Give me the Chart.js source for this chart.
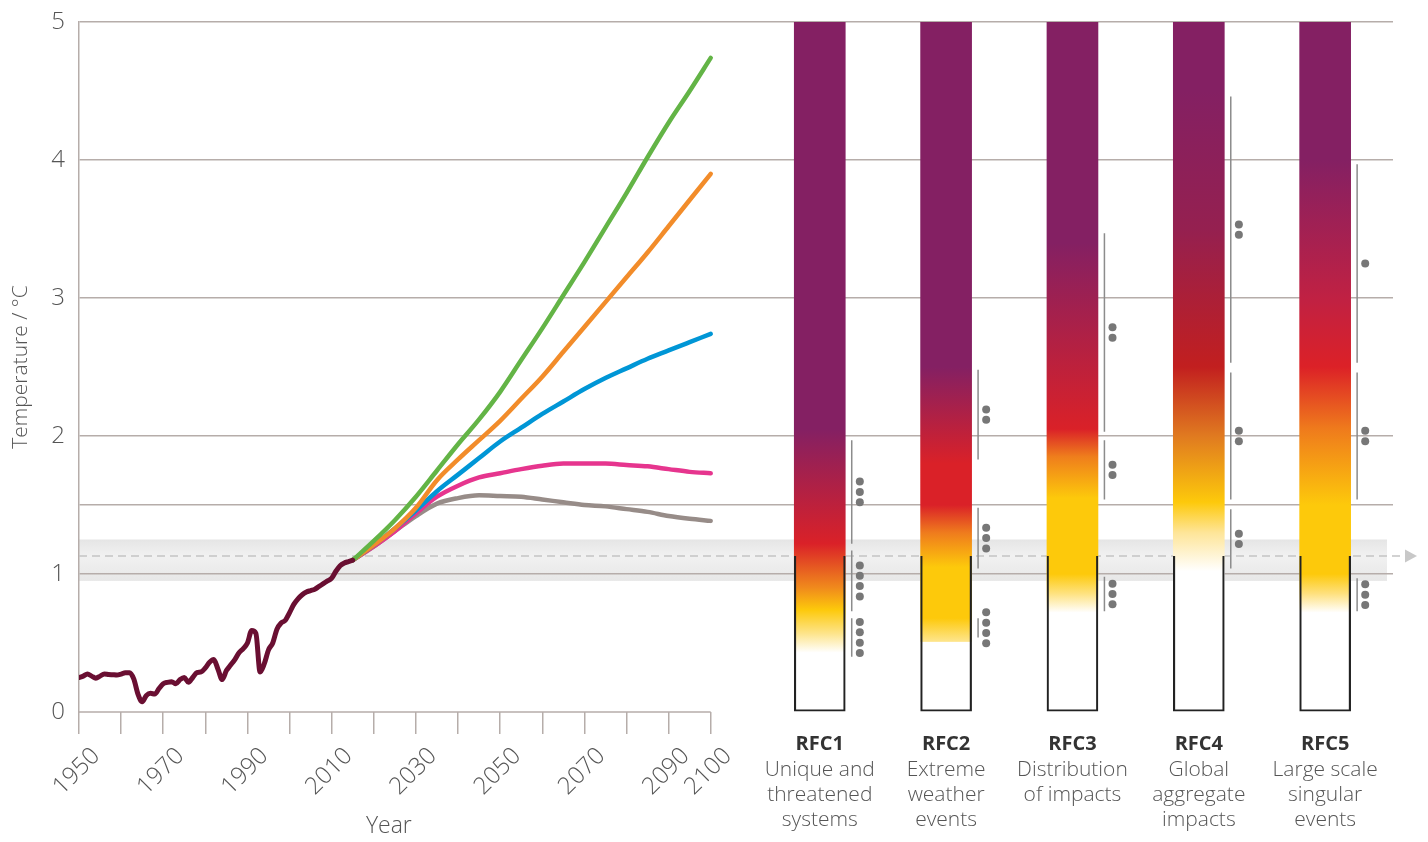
<!DOCTYPE html>
<html>
<head>
<meta charset="utf-8">
<script src="https://cdn.jsdelivr.net/npm/chart.js@4/dist/chart.umd.min.js"></script>
<style>
  html, body { margin: 0; padding: 0; background: #fff; }
  #wrap { position: relative; width: 1428px; height: 842px; }
</style>
</head>
<body>
<div id="wrap"><canvas id="myChart"></canvas></div>
<script>
// observed warming, one value per year from 1950
const histStart = 1950
const histValues = [
  0.25, 0.26, 0.275, 0.26, 0.245, 0.26, 0.275, 0.272, 0.27, 0.268,
  0.275, 0.285, 0.285, 0.24, 0.13, 0.075, 0.12, 0.135, 0.13, 0.17,
  0.205, 0.215, 0.22, 0.205, 0.235, 0.25, 0.215, 0.25, 0.285, 0.29,
  0.32, 0.36, 0.38, 0.31, 0.235, 0.3, 0.34, 0.38, 0.43, 0.46,
  0.5, 0.59, 0.57, 0.29, 0.35, 0.45, 0.5, 0.6, 0.645, 0.665,
  0.72, 0.78, 0.82, 0.85, 0.87, 0.88, 0.89, 0.91, 0.93, 0.95,
  0.97, 1.02, 1.06, 1.08, 1.09, 1.1
]

// projections, every 5 years from 2015 to 2100
const scenarioStart = 2015
const scenarioStep = 5
const greenPath  = [1.10, 1.24, 1.39, 1.56, 1.75, 1.94, 2.12, 2.32, 2.55, 2.78, 3.02, 3.26, 3.51, 3.76, 4.02, 4.27, 4.50, 4.74]
const orangePath = [1.10, 1.21, 1.33, 1.48, 1.68, 1.83, 1.97, 2.11, 2.27, 2.43, 2.61, 2.79, 2.97, 3.15, 3.33, 3.52, 3.71, 3.90]
const bluePath   = [1.10, 1.21, 1.33, 1.46, 1.60, 1.72, 1.84, 1.96, 2.06, 2.16, 2.25, 2.34, 2.42, 2.49, 2.56, 2.62, 2.68, 2.74]
const pinkPath   = [1.10, 1.20, 1.31, 1.44, 1.56, 1.64, 1.70, 1.73, 1.76, 1.785, 1.80, 1.80, 1.80, 1.79, 1.78, 1.76, 1.74, 1.73]
const greyPath   = [1.10, 1.20, 1.31, 1.42, 1.51, 1.55, 1.57, 1.565, 1.56, 1.54, 1.52, 1.50, 1.49, 1.47, 1.45, 1.42, 1.40, 1.385]

const yearTicks = [1950, 1960, 1970, 1980, 1990, 2000, 2010, 2020, 2030, 2040, 2050, 2060, 2070, 2080, 2090, 2100]
const yearLabels = [1950, 1970, 1990, 2010, 2030, 2050, 2070, 2090, 2100]
const gridLevels = [1, 1.5, 2, 3, 4, 5]

const tempMax = 5
const presentWarming = 1.13
const presentRange = [0.95, 1.25]

const rfcNames = ['RFC1', 'RFC2', 'RFC3', 'RFC4', 'RFC5']
const rfcDescriptions = [
  ['Unique and', 'threatened', 'systems'],
  ['Extreme', 'weather', 'events'],
  ['Distribution', 'of impacts'],
  ['Global', 'aggregate', 'impacts'],
  ['Large scale', 'singular', 'events']
]

// [temperature, colour] – risk shading of each column
const rfcColorStops = [
  [[0.43, '#ffffff'], [0.57, '#fde48a'], [0.74, '#fdc90b'], [0.9, '#f08a1c'], [1.22, '#da2128'], [2.05, '#842063']],
  [[0.51, '#ffffff'], [0.511, '#fee58c'], [0.68, '#fdc90b'], [1.05, '#fdc90b'], [1.3, '#ef7b1d'], [1.5, '#da2128'], [1.8, '#da2128'], [2.5, '#842063']],
  [[0.72, '#ffffff'], [0.86, '#fee27e'], [1.0, '#fdc90b'], [1.55, '#fdc90b'], [1.85, '#ef7e1c'], [2.05, '#da2128'], [3.4, '#842063']],
  [[1.02, '#ffffff'], [1.3, '#fee598'], [1.52, '#fdc90b'], [2.0, '#e07a20'], [2.5, '#c21f1f'], [3.5, '#952050'], [4.5, '#842063']],
  [[0.72, '#ffffff'], [0.86, '#fee07c'], [1.0, '#fdc90b'], [1.5, '#fdc90b'], [2.05, '#ef7b1c'], [2.5, '#dc2127'], [3.0, '#c02143'], [4.0, '#842063']]
]

// [from, to, confidence dots]
const rfcConfidence = [
  [[0.40, 0.68, 4], [0.73, 1.17, 4], [1.22, 1.97, 3]],
  [[0.54, 0.68, 4], [1.04, 1.48, 3], [1.83, 2.48, 2]],
  [[0.73, 0.98, 3], [1.54, 1.97, 2], [2.03, 3.47, 2]],
  [[1.04, 1.47, 2], [1.54, 2.46, 2], [2.53, 4.46, 2]],
  [[0.73, 0.97, 3], [1.54, 2.46, 2], [2.53, 3.97, 1]]
]

const fontFamily = '"Open Sans", Lato, sans-serif'
const gridColor = '#b6adaa'
const textColor = '#555'

const histData = histValues.map((v, i) => ({ x: histStart + i, y: v }))
const scenario = arr => arr.map((v, i) => ({ x: scenarioStart + i * scenarioStep, y: v }))

const lineOffset = 0.253
const dotOffset = 0.317
const dotGap = 0.075

const confLines = []
const confDots = []
rfcConfidence.forEach((segs, i) => {
  segs.forEach(([lo, hi, n]) => {
    confLines.push({ x: i + lineOffset, y: lo }, { x: i + lineOffset, y: hi }, { x: i + lineOffset, y: null })
    const mid = (lo + hi) / 2
    for (let k = 0; k < n; k++) {
      confDots.push({ x: i + dotOffset, y: mid + (k - (n - 1) / 2) * dotGap })
    }
  })
})

function rfcGradient(context) {
  const chart = context.chart
  const stops = rfcColorStops[context.dataIndex]
  if (!chart.chartArea || !stops) return 'transparent'
  const y = chart.scales.y
  const g = chart.ctx.createLinearGradient(0, y.getPixelForValue(0), 0, y.getPixelForValue(tempMax))
  stops.forEach(([v, c]) => g.addColorStop(v / tempMax, c))
  return g
}

function lineSet(label, data, color, width, order) {
  return {
    type: 'line', label, data, xAxisID: 'x', yAxisID: 'y',
    borderColor: color, borderWidth: width, pointRadius: 0, cubicInterpolationMode: 'monotone',
    borderCapStyle: 'round', borderJoinStyle: 'round', order
  }
}

const decorations = {
  id: 'decorations',
  beforeDraw(chart) {
    const { ctx, chartArea, scales } = chart
    const top = scales.y.getPixelForValue(presentRange[1])
    const bottom = scales.y.getPixelForValue(presentRange[0])
    const g = ctx.createLinearGradient(0, top, 0, bottom)
    g.addColorStop(0, '#e5e5e5')
    g.addColorStop(0.4, '#f1f1f1')
    g.addColorStop(1, '#e7e7e7')
    ctx.save()
    ctx.fillStyle = g
    ctx.fillRect(chartArea.left, top, chartArea.right - 6 - chartArea.left, bottom - top)
    ctx.restore()
  },
  beforeDatasetsDraw(chart) {
    const { ctx, chartArea, scales } = chart
    const yp = scales.y.getPixelForValue(presentWarming)
    ctx.save()
    ctx.strokeStyle = '#c4c4c4'
    ctx.lineWidth = 1.5
    ctx.setLineDash([8, 5])
    ctx.beginPath()
    ctx.moveTo(chartArea.left, yp)
    ctx.lineTo(chartArea.right + 10, yp)
    ctx.stroke()
    ctx.setLineDash([])
    ctx.fillStyle = '#c8c8c8'
    ctx.beginPath()
    ctx.moveTo(chartArea.right + 12, yp - 6.5)
    ctx.lineTo(chartArea.right + 24, yp)
    ctx.lineTo(chartArea.right + 12, yp + 6.5)
    ctx.closePath()
    ctx.fill()

    // year axis line
    const y0 = scales.y.getPixelForValue(0)
    ctx.strokeStyle = gridColor
    ctx.beginPath()
    ctx.moveTo(scales.x.getPixelForValue(yearTicks[0]), y0)
    ctx.lineTo(scales.x.getPixelForValue(yearTicks[yearTicks.length - 1]), y0)
    ctx.stroke()
    ctx.restore()
  },
  afterDraw(chart) {
    const { ctx, scales } = chart
    ctx.save()
    ctx.textAlign = 'center'
    ctx.textBaseline = 'middle'
    rfcNames.forEach((name, i) => {
      const cx = scales.rfc.getPixelForValue(i)
      ctx.fillStyle = '#333'
      ctx.font = `bold 20px ${fontFamily}`
      ctx.fillText(name, cx, 744)
      ctx.fillStyle = textColor
      ctx.font = `300 21px ${fontFamily}`
      rfcDescriptions[i].forEach((line, k) => ctx.fillText(line, cx, 770 + k * 25))
    })
    ctx.font = `300 23px ${fontFamily}`
    ctx.fillText('Year', scales.x.getPixelForValue((yearTicks[0] + yearTicks[yearTicks.length - 1]) / 2) - 6, 826)
    ctx.restore()
  }
}

new Chart(document.getElementById('myChart'), {
  data: {
    datasets: [
      lineSet('Observed', histData, '#6a0f32', 5, 0),
      lineSet('Green', scenario(greenPath), '#63b446', 4.5, 1),
      lineSet('Orange', scenario(orangePath), '#f28c2a', 4.5, 2),
      lineSet('Blue', scenario(bluePath), '#0096d6', 4.5, 3),
      lineSet('Pink', scenario(pinkPath), '#e6358e', 4.5, 4),
      lineSet('Grey', scenario(greyPath), '#978c88', 4.5, 5),
      {
        type: 'scatter', label: 'Confidence', data: confDots, xAxisID: 'rfc', yAxisID: 'y',
        pointRadius: 4, pointBackgroundColor: '#777', pointBorderWidth: 0, order: 6
      },
      {
        type: 'line', label: 'Ranges', data: confLines, xAxisID: 'rfc', yAxisID: 'y',
        borderColor: '#8c8c8c', borderWidth: 1.5, pointRadius: 0, spanGaps: false, order: 7
      },
      {
        type: 'bar', label: 'Outline', xAxisID: 'rfc', yAxisID: 'y',
        data: rfcNames.map((n, i) => ({ x: i, y: [0, presentWarming] })),
        backgroundColor: 'transparent', borderColor: '#222', borderWidth: 1.5,
        borderSkipped: 'top', barThickness: 51, grouped: false, order: 8
      },
      {
        type: 'bar', label: 'Risk', xAxisID: 'rfc', yAxisID: 'y',
        data: rfcNames.map((n, i) => ({ x: i, y: [0, tempMax] })),
        backgroundColor: rfcGradient, borderWidth: 0,
        barThickness: 51, grouped: false, order: 9
      }
    ]
  },
  options: {
    responsive: true,
    maintainAspectRatio: false,
    animation: false,
    layout: { padding: { top: 22, right: 35, left: 0, bottom: 0 } },
    plugins: { legend: { display: false }, tooltip: { enabled: false } },
    scales: {
      x: {
        type: 'linear', position: 'bottom', min: 1950, max: 2262, offset: false,
        afterBuildTicks: s => { s.ticks = yearTicks.map(v => ({ value: v })) },
        afterFit: s => { s.height = 130 },
        ticks: {
          autoSkip: false, maxRotation: 45, minRotation: 45, padding: 8, labelOffset: 17,
          color: textColor, font: { family: fontFamily, size: 24, weight: '300' },
          callback: v => yearLabels.includes(v) ? String(v) : ''
        },
        grid: { drawOnChartArea: false, drawTicks: true, tickLength: 22, color: gridColor, lineWidth: 1.5, offset: false },
        border: { display: false }
      },
      rfc: {
        type: 'linear', axis: 'x', position: 'bottom', display: false, offset: false,
        grid: { offset: false },
        min: -5.863, max: 4.537
      },
      y: {
        min: 0, max: tempMax,
        afterFit: s => { s.width = 79; s.paddingTop = 4; s.paddingBottom = 4 },
        ticks: {
          stepSize: 0.5, padding: 14, color: textColor,
          font: { family: fontFamily, size: 24, weight: '300' },
          callback: v => Number.isInteger(v) ? String(v) : ''
        },
        grid: {
          drawTicks: false, lineWidth: 1.5,
          color: ctx => gridLevels.includes(ctx.tick.value) ? gridColor : 'transparent'
        },
        border: { display: true, color: gridColor, width: 1.5 },
        title: {
          display: true, text: 'Temperature / °C', color: textColor,
          font: { family: fontFamily, size: 21, weight: '300' }, padding: { top: 8, bottom: 0 }
        }
      }
    }
  },
  plugins: [decorations]
})
</script>
</body>
</html>
